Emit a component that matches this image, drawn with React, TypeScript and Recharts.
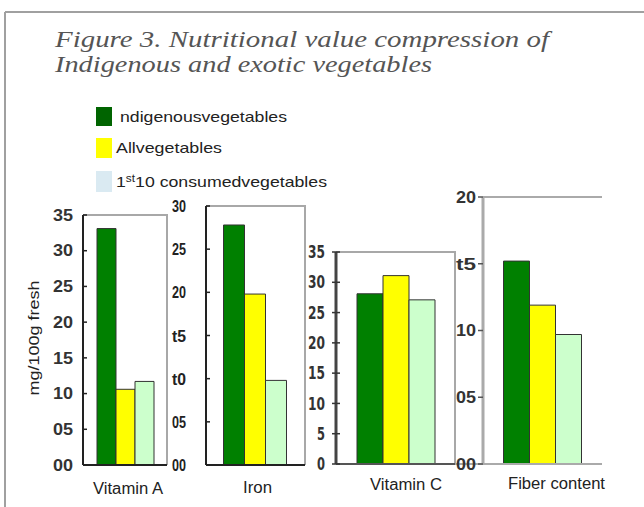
import React from 'react';
import { BarChart, Bar, XAxis, YAxis, ReferenceArea } from 'recharts';

// ---- data ----
const seriesNames = ['ndigenousvegetables', 'Allvegetables', '1st10 consumedvegetables'];
const barColors = ['#008000', '#FFFF00', '#CCFFCC'];
const legendColors = ['#006400', '#FFFF00', '#DAEAF2'];

const categories = ['Vitamin A', 'Iron', 'Vitamin C', 'Fiber content'];
const indigenous = [33.1, 27.8, 28.1, 15.2];
const allVegetables = [10.6, 19.8, 31.1, 11.9];
const topTen = [11.7, 9.8, 27.1, 9.7];

const yMax = [35, 30, 35, 20];
const tickValues = [
  [0, 5, 10, 15, 20, 25, 30, 35],
  [0, 5, 10, 15, 20, 25, 30],
  [0, 5, 10, 15, 20, 25, 30, 35],
  [0, 5, 10, 15, 20],
];
const tickLabels = [
  ['00', '05', '10', '15', '20', '25', '30', '35'],
  ['00', '05', 't0', 't5', '20', '25', '30'],
  ['0', '5', '10', '15', '20', '25', '30', '35'],
  ['00', '05', '10', 't5', '20'],
];
const yAxisTitle = 'mg/100g fresh';
const titleLines = ['Figure 3. Nutritional value compression of', 'Indigenous and exotic vegetables'];

// ---- layout / style (not data) ----
const SANS = "'Liberation Sans', Arial, Helvetica, sans-serif";
const SERIF = "'Liberation Serif', 'Times New Roman', Times, serif";
const COND = "'DejaVu Sans Condensed', 'Liberation Sans Narrow', sans-serif";

type Cfg = {
  x: number; y: number; w: number; h: number; gap: number;
  leftColor: string; leftW: number; bottomColor: string; bottomW: number;
  boxColor: string; boxW: number; rightSide: boolean;
  labGap: number; labW: number[]; labFont: number; labFamily: string; labColor: string;
  tickIn: number; tickOut: number; tickColor: string;
  catDx: number; catDy: number; catW: number;
};
const panels: Cfg[] = [
  { x: 83, y: 215, w: 84, h: 250, gap: 14, leftColor: '#222', leftW: 2, bottomColor: '#222', bottomW: 2,
    boxColor: '#a8a8a8', boxW: 2, rightSide: true,
    labGap: 10, labW: [20, 20], labFont: 16, labFamily: SANS, labColor: '#333',
    tickIn: 4, tickOut: 0, tickColor: '#222', catDx: 3, catDy: 29, catW: 70 },
  { x: 206, y: 206, w: 99, h: 259, gap: 17.5, leftColor: '#222', leftW: 2, bottomColor: '#222', bottomW: 2,
    boxColor: '#a8a8a8', boxW: 2, rightSide: true,
    labGap: 20, labW: [14, 14], labFont: 17, labFamily: SANS, labColor: '#222',
    tickIn: 4, tickOut: 0, tickColor: '#222', catDx: 2, catDy: 28, catW: 29 },
  { x: 336, y: 252, w: 119, h: 212, gap: 21, leftColor: '#444', leftW: 3, bottomColor: '#555', bottomW: 2,
    boxColor: '#a8a8a8', boxW: 2, rightSide: true,
    labGap: 11, labW: [8, 17], labFont: 17, labFamily: COND, labColor: '#333',
    tickIn: 4, tickOut: 4, tickColor: '#333', catDx: 10.5, catDy: 26, catW: 72 },
  { x: 483, y: 197, w: 119, h: 267, gap: 20.5, leftColor: '#aaa', leftW: 3, bottomColor: '#aaa', bottomW: 2,
    boxColor: '#aaa', boxW: 2, rightSide: false,
    labGap: 7, labW: [20, 20], labFont: 16, labFamily: SANS, labColor: '#333',
    tickIn: 0, tickOut: 5, tickColor: '#555', catDx: 14, catDy: 25, catW: 97 },
];

const PAD_L = 60;
const PAD_T = 10;
const PAD_R = 20;
const PAD_B = 40;

function makeYTick(i: number) {
  const cfg = panels[i];
  return (props: any) => {
    const { x, y, payload } = props;
    const idx = tickValues[i].indexOf(payload.value);
    const label = idx >= 0 ? tickLabels[i][idx] : String(payload.value);
    const axisX = x + cfg.labGap;
    const w = label.length === 1 ? cfg.labW[0] : cfg.labW[1];
    return (
      <g>
        <text x={x} y={y} dy="0.36em" textAnchor="end" style={{ fontFamily: cfg.labFamily }} fontWeight="bold"
          fontSize={cfg.labFont} fill={cfg.labColor} textLength={w} lengthAdjust="spacingAndGlyphs">{label}</text>
        <line x1={axisX - cfg.tickOut} x2={axisX + cfg.tickIn} y1={y} y2={y} stroke={cfg.tickColor} strokeWidth={1.5} />
      </g>
    );
  };
}

function makeXTick(i: number) {
  const cfg = panels[i];
  return (props: any) => {
    const { x, y, payload } = props;
    return (
      <text x={x + cfg.catDx} y={y + cfg.catDy} textAnchor="middle" style={{ fontFamily: SANS }} fontSize={16}
        fill="#222" textLength={cfg.catW} lengthAdjust="spacingAndGlyphs">{payload.value}</text>
    );
  };
}

function Panel({ i }: { i: number }) {
  const cfg = panels[i];
  const data = [{ name: categories[i], ind: indigenous[i], all: allVegetables[i], top: topTen[i] }];
  // stroke only the top (and right) edges of the plot rectangle
  const dash = cfg.rightSide
    ? `${cfg.w + cfg.h} ${cfg.w + cfg.h}`
    : `${cfg.w} ${cfg.w + 2 * cfg.h}`;
  const yLabel = i === 0
    ? {
        content: (p: any) => {
          const vb = p.viewBox || { x: 0, y: 0, width: PAD_L, height: cfg.h };
          const cx = vb.x + vb.width - 49;
          const cy = vb.y + vb.height / 2 - 2;
          return (
            <text x={cx} y={cy} transform={`rotate(-90 ${cx} ${cy})`} textAnchor="middle" dy="0.35em"
              style={{ fontFamily: SANS }} fontSize={15} fill="#222" textLength={115} lengthAdjust="spacingAndGlyphs">{yAxisTitle}</text>
          );
        },
      }
    : undefined;
  return (
    <div style={{ position: 'absolute', left: cfg.x - PAD_L, top: cfg.y - PAD_T }}>
      <BarChart width={PAD_L + cfg.w + PAD_R} height={PAD_T + cfg.h + PAD_B} data={data}
        margin={{ top: PAD_T, right: PAD_R, left: 0, bottom: 0 }} barCategoryGap={cfg.gap} barGap={0}>
        <ReferenceArea y1={0} y2={yMax[i]} fill="none" fillOpacity={0} stroke={cfg.boxColor} strokeWidth={cfg.boxW}
          strokeDasharray={dash} ifOverflow="visible" />
        <XAxis dataKey="name" height={PAD_B} tickLine={false} tickSize={0} tickMargin={0}
          axisLine={{ stroke: cfg.bottomColor, strokeWidth: cfg.bottomW }} tick={makeXTick(i)} interval={0} />
        <YAxis width={PAD_L} domain={[0, yMax[i]]} ticks={tickValues[i]} interval={0} tickLine={false} tickSize={0}
          tickMargin={cfg.labGap} allowDataOverflow
          axisLine={{ stroke: cfg.leftColor, strokeWidth: cfg.leftW }} tick={makeYTick(i)} label={yLabel as any} />
        <Bar dataKey="ind" name={seriesNames[0]} fill={barColors[0]} stroke="#333" strokeWidth={1} isAnimationActive={false} />
        <Bar dataKey="all" name={seriesNames[1]} fill={barColors[1]} stroke="#333" strokeWidth={1} isAnimationActive={false} />
        <Bar dataKey="top" name={seriesNames[2]} fill={barColors[2]} stroke="#333" strokeWidth={1} isAnimationActive={false} />
      </BarChart>
    </div>
  );
}

const legendRows = [
  { y: 107, h: 19, tx: 103, tw: 167 },
  { y: 138, h: 20, tx: 99, tw: 106 },
  { y: 171, h: 21, tx: 99, tw: 211 },
];

function Overlay() {
  return (
    <svg width={644} height={507} style={{ position: 'absolute', left: 0, top: 0 }}>
      <line x1={5} y1={12} x2={644} y2={12} stroke="#a0a0a0" strokeWidth={2} />
      <line x1={5} y1={12} x2={5} y2={507} stroke="#a0a0a0" strokeWidth={2} />
      <text x={55} y={47} style={{ fontFamily: SERIF }} fontStyle="italic" fontSize={24} fill="#555"
        textLength={494} lengthAdjust="spacingAndGlyphs">{titleLines[0]}</text>
      <text x={55} y={72} style={{ fontFamily: SERIF }} fontStyle="italic" fontSize={24} fill="#555"
        textLength={377} lengthAdjust="spacingAndGlyphs">{titleLines[1]}</text>
      <rect x={50} y={77} width={400} height={14} fill="#fff" />
      {seriesNames.map((n, k) => {
        const r = legendRows[k];
        const cy = r.y + r.h / 2;
        return (
          <g key={n}>
            <rect x={96} y={r.y} width={16} height={r.h} fill={legendColors[k]} />
            {k === 2 ? (
              <text x={r.tx + 17} y={cy} dy="0.36em" style={{ fontFamily: SANS }} fontSize={15} fill="#222"
                textLength={r.tw} lengthAdjust="spacingAndGlyphs">
                <tspan>1</tspan>
                <tspan fontSize={10} dy="-5">st</tspan>
                <tspan dy="5">10 consumedvegetables</tspan>
              </text>
            ) : (
              <text x={r.tx + 17} y={cy} dy="0.36em" style={{ fontFamily: SANS }} fontSize={15} fill="#222"
                textLength={r.tw} lengthAdjust="spacingAndGlyphs">{n}</text>
            )}
          </g>
        );
      })}
      <line x1={455} y1={464} x2={483} y2={464} stroke="#aaa" strokeWidth={2} />
    </svg>
  );
}

export default function App() {
  return (
    <div style={{ position: 'absolute', left: 0, top: 0, width: 644, height: 507, background: '#fff', overflow: 'hidden' }}>
      <Overlay />
      {panels.map((_, i) => (
        <Panel key={i} i={i} />
      ))}
    </div>
  );
}
